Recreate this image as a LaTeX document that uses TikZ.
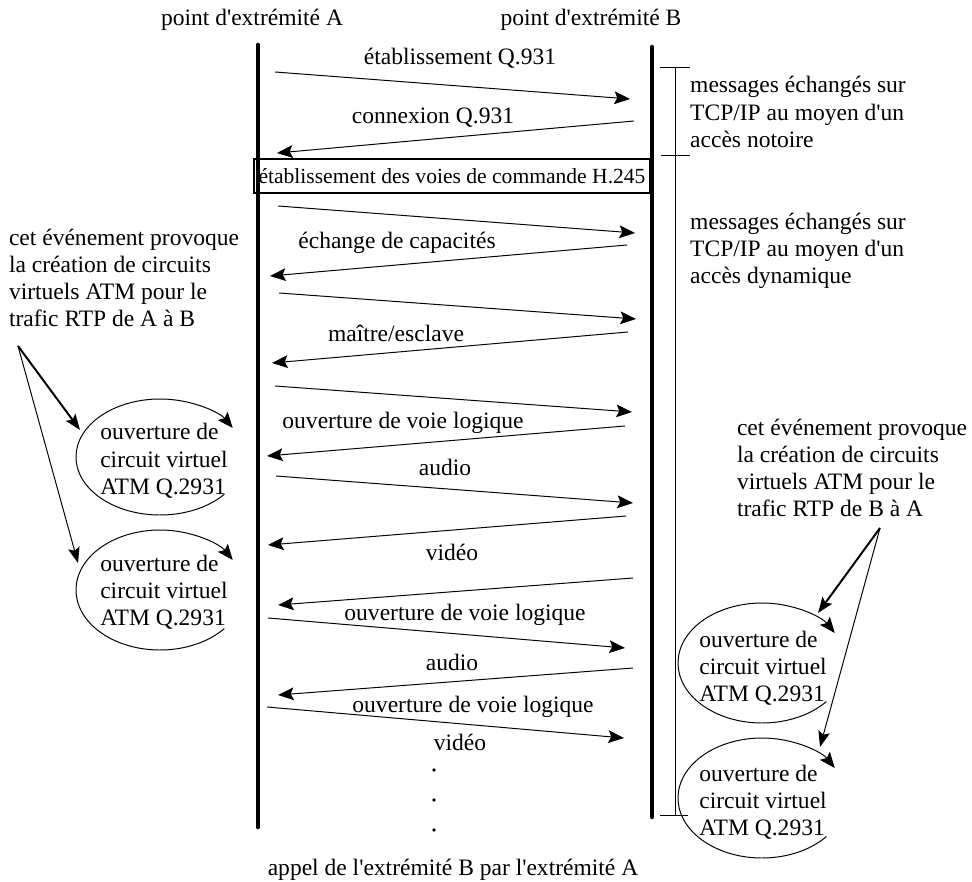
\documentclass[tikz,border=0pt]{standalone}
\usepackage{fontspec}
\setmainfont{Liberation Serif}[Ligatures=TeXOff]
\usepackage{tikz}
\usetikzlibrary{arrows.meta,positioning}

\begin{document}
\begin{tikzpicture}[x=0.51pt,y=-0.51pt,
  every node/.style={font=\fontsize{12}{13.9}\selectfont,inner sep=0pt},
  msg/.style={-{Stealth[length=8pt,width=6.5pt,inset=1.5pt]},line width=0.5pt},
  life/.style={line width=2.3pt,line cap=round},
  ring/.style={-{Stealth[length=8pt,width=6.5pt,inset=1.5pt]},line width=0.5pt},
  ptr/.style={-{Stealth[length=8pt,width=6pt,inset=1.5pt]}},
  note/.style={align=left}]
\useasboundingbox (0,0) rectangle (972,882);

\node (ptA) at (252,20) {point d'extrémité A};
\node (ptB) at (591,20) {point d'extrémité B};
\coordinate (Atop) at (258,45);
\coordinate (Abot) at (258,827);
\coordinate (Btop) at (652,47);
\coordinate (Bbot) at (652,817);
\draw[life] (Atop) -- (Abot);
\draw[life] (Btop) -- (Bbot);

\foreach \n/\xa/\ya/\xb/\yb in {1/275/72/630/99, 2/634/121/277/153, 3/278/206/635/233,
  4/627/245/270/276, 5/279/293/636/319, 6/628/332/272/363, 7/275/386/632/412,
  8/625/426/267/456, 9/276/476/633/503, 10/626/516/268/545, 11/633/578/278/605,
  12/268/618/625/648, 13/633/668/278/695, 14/267/707/624/738} {
  \coordinate (m\n-s) at (\xa,\ya);
  \coordinate (m\n-e) at (\xb,\yb);
  \draw[msg] (m\n-s) -- (m\n-e);
}

\node (lbEtab) at (460,58) {établissement Q.931};
\node (lbConn) at (433,118) {connexion Q.931};
\node[draw,line width=0.7pt,minimum width=202pt,minimum height=17.3pt,
  font=\fontsize{11}{13}\selectfont] (h245) at (452,176) {établissement des voies de commande H.245};
\node (lbCap) at (397,243) {échange de capacités};
\node (lbMaitre) at (396,333) {maître/esclave};
\node (lbVoie1) at (403,423) {ouverture de voie logique};
\node (lbAudio1) at (445,467) {audio};
\node (lbVideo1) at (452,552) {vidéo};
\node (lbVoie2) at (465,615) {ouverture de voie logique};
\node (lbAudio2) at (452,662) {audio};
\node (lbVoie3) at (473,707) {ouverture de voie logique};
\node (lbVideo2) at (460,742) {vidéo};
\foreach \k/\y in {1/770,2/800,3/830}
  \fill (434,\y) coordinate (dot\k) circle[radius=0.9pt];
\node (lbAppel) at (453,870) {appel de l'extrémité B par l'extrémité A};

\coordinate (br1) at (675,67);
\coordinate (br2) at (675,155);
\coordinate (br3) at (675,815);
\draw[line width=0.5pt] (br1) -- (br3);
\draw[line width=0.5pt] (br1) ++(-15,0) -- ++(30,0);
\draw[line width=0.5pt] (br2) ++(-14,0) -- ++(29,0);
\draw[line width=0.5pt] (br3) ++(-15,0) -- ++(28,0);
\node[note] (tcpN) at (798,112) {messages échangés sur\\TCP/IP au moyen d'un\\accès notoire};
\node[note] (tcpD) at (798,251) {messages échangés sur\\TCP/IP au moyen d'un\\accès dynamique};

\node[note] (evA) at (124,278) {cet événement provoque\\la création de circuits\\virtuels ATM pour le\\trafic RTP de A à B};
\node[note] (evB) at (852,468) {cet événement provoque\\la création de circuits\\virtuels ATM pour le\\trafic RTP de B à A};

\node[note] (cvA1) at (164,461) {ouverture de\\circuit virtuel\\ATM Q.2931};
\node[note] (cvA2) at (164,592) {ouverture de\\circuit virtuel\\ATM Q.2931};
\node[note] (cvB1) at (763,668) {ouverture de\\circuit virtuel\\ATM Q.2931};
\node[note] (cvB2) at (763,802) {ouverture de\\circuit virtuel\\ATM Q.2931};
\coordinate (eA1) at (160,457);
\coordinate (eA2) at (160,590);
\coordinate (eB1) at (762,663);
\coordinate (eB2) at (762,798);
\draw[ring] (eA1) ++(40:84 and 58) arc[start angle=40,end angle=330,x radius=84,y radius=58];
\draw[ring] (eA2) ++(40:84 and 60) arc[start angle=40,end angle=330,x radius=84,y radius=60];
\draw[ring] (eB1) ++(40:84 and 60) arc[start angle=40,end angle=330,x radius=84,y radius=60];
\draw[ring] (eB2) ++(40:84 and 60) arc[start angle=40,end angle=330,x radius=84,y radius=60];

\coordinate (srcA) at (18,346);
\coordinate (tipA1) at (80,430);
\coordinate (tipA2) at (78,563);
\draw[ptr,line width=1pt] (srcA) -- (tipA1);
\draw[ptr,line width=0.5pt] (srcA) -- (tipA2);
\coordinate (srcB) at (880,528);
\coordinate (tipB1) at (818,613);
\coordinate (tipB2) at (820,747);
\draw[ptr,line width=1pt] (srcB) -- (tipB1);
\draw[ptr,line width=0.5pt] (srcB) -- (tipB2);
\end{tikzpicture}
\end{document}
